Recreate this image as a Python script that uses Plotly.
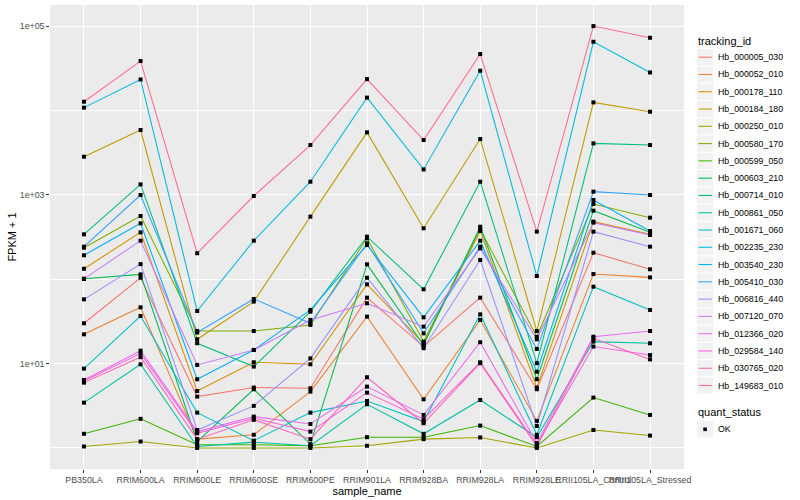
import plotly.graph_objects as go

samples = ["PB350LA", "RRIM600LA", "RRIM600LE", "RRIM600SE", "RRIM600PE", "RRIM901LA",
           "RRIM928BA", "RRIM928LA", "RRIM928LE", "RRII105LA_Control", "RRII105LA_Stressed"]

tracking_ids = ["Hb_000005_030", "Hb_000052_010", "Hb_000178_110", "Hb_000184_180",
                "Hb_000250_010", "Hb_000580_170", "Hb_000599_050", "Hb_000603_210",
                "Hb_000714_010", "Hb_000861_050", "Hb_001671_060", "Hb_002235_230",
                "Hb_003540_230", "Hb_005410_030", "Hb_006816_440", "Hb_007120_070",
                "Hb_012366_020", "Hb_029584_140", "Hb_030765_020", "Hb_149683_010"]

colors = ["#F8766D", "#EA8331", "#D89000", "#C09B00", "#A3A500", "#7CAE00", "#39B600",
          "#00BB4E", "#00BF7D", "#00C1A3", "#00BFC4", "#00BAE0", "#00B0F6", "#35A2FF",
          "#9590FF", "#C77CFF", "#E76BF3", "#FA62DB", "#FF62BC", "#FF6C91"]

# FPKM + 1 values, one list per tracking_id (order follows `samples`)
hb_000005_030 = [30.0, 104, 4.06, 5.19, 5.09, 60.4, 15.9, 60.4, 4.96, 206, 131]
hb_000052_010 = [22.2, 46.4, 1.27, 1.43, 4.65, 36.0, 3.77, 32.9, 2.09, 115, 105]
hb_000178_110 = [133, 359, 4.73, 10.35, 9.8, 86.9, 17.4, 372, 5.19, 481, 340]
hb_000184_180 = [2830, 5860, 19.4, 54.2, 551, 5500, 401, 4580, 24.3, 12470, 9660]
hb_000250_010 = [1.04, 1.19, 1.0, 1.0, 1.0, 1.06, 1.27, 1.33, 1.0, 1.63, 1.40]
hb_000580_170 = [236, 561, 24.3, 24.3, 28.7, 305, 18.2, 390, 20.8, 778, 536]
hb_000599_050 = [1.47, 2.21, 1.09, 1.09, 1.06, 1.34, 1.34, 1.84, 1.04, 3.95, 2.46]
hb_000603_210 = [101, 114, 1.19, 4.96, 1.11, 150, 16.6, 419, 6.51, 649, 359]
hb_000714_010 = [340, 1330, 17.4, 9.2, 41.2, 319, 75.9, 1430, 10.1, 4070, 3890]
hb_000861_050 = [3.44, 9.8, 1.04, 1.17, 1.06, 3.29, 1.47, 3.70, 1.34, 18.2, 17.4]
hb_001671_060 = [8.71, 36.6, 2.62, 1.22, 2.62, 3.60, 2.05, 38.3, 1.43, 81.5, 43.2]
hb_002235_230 = [10800, 23300, 42, 286, 1430, 14200, 2000, 29600, 109, 65200, 28200]
hb_003540_230 = [192, 459, 6.51, 14.5, 43.2, 254, 35.3, 286, 8.0, 867, 372]
hb_005410_030 = [243, 995, 23.3, 58.3, 30.0, 266, 22.8, 243, 14.9, 1090, 995]
hb_006816_440 = [57.7, 151, 1.63, 3.15, 11.5, 104, 15.2, 169, 1.82, 366, 243]
hb_007120_070 = [101, 286, 9.63, 14.5, 32.9, 51.8, 27.4, 232, 19.4, 468, 334]
hb_012366_020 = [6.39, 14.2, 1.56, 2.35, 1.92, 5.33, 2.46, 17.9, 1.14, 20.8, 24.3]
hb_029584_140 = [6.22, 13.2, 1.49, 2.25, 1.56, 4.52, 2.19, 10.35, 1.09, 15.9, 12.6]
hb_030765_020 = [5.94, 11.9, 1.27, 2.15, 1.27, 6.88, 1.96, 10.1, 1.04, 19.9, 11.2]
hb_149683_010 = [12700, 38500, 203, 968, 3890, 23500, 4460, 46600, 366, 100000, 72700]

series = [hb_000005_030, hb_000052_010, hb_000178_110, hb_000184_180, hb_000250_010,
          hb_000580_170, hb_000599_050, hb_000603_210, hb_000714_010, hb_000861_050,
          hb_001671_060, hb_002235_230, hb_003540_230, hb_005410_030, hb_006816_440,
          hb_007120_070, hb_012366_020, hb_029584_140, hb_030765_020, hb_149683_010]

quant_status = "OK"

W, H = 800, 500
ML, MR, MT, MB = 50, 116, 5, 31
PW, PH = W - ML - MR, H - MT - MB
FONT = "Liberation Sans, Arial, Helvetica, sans-serif"


def px(xp):
    return (xp - ML) / PW


def py(yp):
    return (H - MB - yp) / PH


fig = go.Figure()

for tid, col, vals in zip(tracking_ids, colors, series):
    fig.add_trace(go.Scatter(x=samples, y=vals, mode="lines", name=tid,
                             line=dict(color=col, width=1.07), showlegend=False,
                             hoverinfo="x+y+name"))

all_x, all_y = [], []
for vals in series:
    all_x += samples
    all_y += vals
fig.add_trace(go.Scatter(x=all_x, y=all_y, mode="markers", name=quant_status,
                         marker=dict(symbol="square", size=4, color="black"),
                         showlegend=False))

shapes = []
annotations = []

# legend: tracking_id
annotations.append(dict(text="tracking_id", x=px(696), y=py(40.7), xref="paper", yref="paper",
                        xanchor="left", yanchor="middle", showarrow=False,
                        font=dict(family=FONT, size=11, color="black")))
step = 17.28
c0 = 57.2
for i, (tid, col) in enumerate(zip(tracking_ids, colors)):
    c = c0 + i * step
    shapes.append(dict(type="rect", xref="paper", yref="paper",
                       x0=px(697), x1=px(713.3), y0=py(c + 8.1), y1=py(c - 8.1),
                       fillcolor="#F2F2F2", line=dict(width=0), layer="above"))
    shapes.append(dict(type="line", xref="paper", yref="paper",
                       x0=px(698.5), x1=px(711.8), y0=py(c), y1=py(c),
                       line=dict(color=col, width=1.07), layer="above"))
    annotations.append(dict(text=tid, x=px(716.5), y=py(c), xref="paper", yref="paper",
                            xanchor="left", yanchor="middle", showarrow=False,
                            font=dict(family=FONT, size=8.8, color="black")))

# legend: quant_status
annotations.append(dict(text="quant_status", x=px(696), y=py(412.3), xref="paper", yref="paper",
                        xanchor="left", yanchor="middle", showarrow=False,
                        font=dict(family=FONT, size=11, color="black")))
cq = 429.3
shapes.append(dict(type="rect", xref="paper", yref="paper",
                   x0=px(697), x1=px(713.3), y0=py(cq + 8.1), y1=py(cq - 8.1),
                   fillcolor="#F2F2F2", line=dict(width=0), layer="above"))
shapes.append(dict(type="rect", xref="paper", yref="paper",
                   x0=px(703.3), x1=px(706.9), y0=py(cq + 1.8), y1=py(cq - 1.8),
                   fillcolor="black", line=dict(width=0), layer="above"))
annotations.append(dict(text=quant_status, x=px(716.5), y=py(cq), xref="paper", yref="paper",
                        xanchor="left", yanchor="middle", showarrow=False,
                        font=dict(family=FONT, size=8.8, color="black")))

fig.update_layout(
    width=W, height=H,
    margin=dict(l=ML, r=MR, t=MT, b=MB, pad=0),
    paper_bgcolor="white", plot_bgcolor="#EBEBEB",
    font=dict(family=FONT, color="black"),
    showlegend=False,
    shapes=shapes, annotations=annotations,
    xaxis=dict(type="category", categoryorder="array", categoryarray=samples,
               range=[-0.6, len(samples) - 0.4],
               showgrid=True, gridcolor="white", gridwidth=1.07,
               zeroline=False, showline=False,
               ticks="outside", ticklen=2.75, tickwidth=1.07, tickcolor="#333333",
               tickangle=0, tickfont=dict(family=FONT, size=8.8, color="#4D4D4D"),
               title=dict(text="sample_name", font=dict(family=FONT, size=11, color="black"),
                          standoff=1),
               automargin=False),
    yaxis=dict(type="log", range=[-0.25, 5.25],
               tickmode="array", tickvals=[10, 1000, 100000],
               ticktext=["1e+01", "1e+03", "1e+05"],
               showgrid=True, gridcolor="white", gridwidth=1.07,
               minor=dict(tickmode="array", tickvals=[1, 100, 10000], showgrid=True,
                          gridcolor="white", gridwidth=0.53, ticks=""),
               zeroline=False, showline=False,
               ticks="outside", ticklen=2.75, tickwidth=1.07, tickcolor="#333333",
               tickfont=dict(family=FONT, size=8.8, color="#4D4D4D"),
               title=dict(text="FPKM + 1", font=dict(family=FONT, size=11, color="black"),
                          standoff=0),
               automargin=False),
)

fig.write_html("out.html", config={"displayModeBar": False},
               post_script="document.body.style.margin='0';document.body.style.overflow='hidden';")
